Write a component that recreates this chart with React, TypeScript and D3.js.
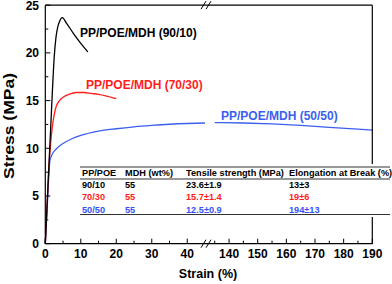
import React from 'react';
import * as d3 from 'd3';

// strain (%) / stress (MPa)
const strain9010 = [0, 0.5, 1, 1.5, 2, 2.5, 3, 3.5, 4, 4.8, 6, 8, 10, 12];
const stress9010 = [0, 4, 8, 12, 16, 19.5, 21.6, 22.7, 23.3, 23.7, 23.1, 22.0, 21.0, 20.1];

const strain7030 = [0, 0.5, 1, 1.5, 2, 2.5, 3, 4, 5, 7, 9, 11, 13, 15, 17, 20];
const stress7030 = [0, 4, 8, 10.5, 12.3, 13.5, 14.3, 15.0, 15.35, 15.7, 15.85, 15.85, 15.75, 15.65, 15.5, 15.2];

const strain5050 = [0, 0.5, 1, 1.3, 2, 3, 5, 7.5, 10, 15, 20, 25, 30, 35, 40, 45];
const stress5050 = [0, 3.5, 7.2, 8.7, 9.4, 9.9, 10.5, 11.0, 11.35, 11.8, 12.05, 12.25, 12.4, 12.52, 12.6, 12.65];
// after the axis break
const strain5050b = [135, 145, 155, 165, 175, 185, 190];
const stress5050b = [12.7, 12.65, 12.55, 12.4, 12.2, 12.0, 11.9];

const leftTicks = [0, 10, 20, 30, 40];
const leftMinor = [5, 15, 25, 35];
const rightTicks = [140, 150, 160, 170, 180, 190];
const rightMinor = [135, 145, 155, 165, 175, 185];
const yTicks = [0, 5, 10, 15, 20, 25];
const yMinor = [2.5, 7.5, 12.5, 17.5, 22.5];

const tableHead = ['PP/POE', 'MDH (wt%)', 'Tensile strength (MPa)', 'Elongation at Break (%)'];
const tableRows = [
  ['90/10', '55', '23.6±1.9', '13±3'],
  ['70/30', '55', '15.7±1.4', '19±6'],
  ['50/50', '55', '12.5±0.9', '194±13'],
];
const seriesNames = ['PP/POE/MDH (90/10)', 'PP/POE/MDH (70/30)', 'PP/POE/MDH (50/50)'];

const BLACK = '#000000';
const RED = '#ff1c1c';
const BLUE = '#3a5ff0';
const rowColors = [BLACK, RED, '#3352f5'];

const FONT = '"Liberation Sans", Arial, sans-serif';

export default function App() {
  const W = 392, H = 284;
  const xL = d3.scaleLinear().domain([0, 45]).range([45.3, 205]);
  const xR = d3.scaleLinear().domain([133, 190]).range([209, 372.3]);
  const y = d3.scaleLinear().domain([0, 25]).range([243.7, 5.2]);
  const x0 = xL(0), x1 = xR(190), yb = y(0), yt = y(25);

  const lineL = d3.line<[number, number]>()
    .x(d => xL(d[0])).y(d => y(d[1])).curve(d3.curveMonotoneX);
  const lineR = d3.line<[number, number]>()
    .x(d => xR(d[0])).y(d => y(d[1])).curve(d3.curveMonotoneX);
  const zip = (a: number[], b: number[]) => a.map((v, i) => [v, b[i]] as [number, number]);

  const colX = [82, 125, 186, 289];
  const breakX = 207;

  const breakMark = (cy: number) => (
    <g stroke="#000" strokeWidth={1}>
      <line x1={breakX - 6} y1={cy + 4} x2={breakX - 1} y2={cy - 4} />
      <line x1={breakX - 1} y1={cy + 4} x2={breakX + 4} y2={cy - 4} />
    </g>
  );

  return (
    <svg width={W} height={H} style={{ position: 'absolute', left: 0, top: 0, background: '#fff' }}
      fontFamily={FONT} fontWeight="bold">
      {/* curves */}
      <path d={lineL(zip(strain5050, stress5050)) || ''} fill="none" stroke={BLUE} strokeWidth={1.3} />
      <path d={lineR(zip(strain5050b, stress5050b)) || ''} fill="none" stroke={BLUE} strokeWidth={1.3} />
      <path d={lineL(zip(strain7030, stress7030)) || ''} fill="none" stroke={RED} strokeWidth={1.3} />
      <path d={lineL(zip(strain9010, stress9010)) || ''} fill="none" stroke={BLACK} strokeWidth={1.3} />

      {/* frame */}
      <g stroke="#000" strokeWidth={1.2} fill="none">
        <line x1={x0} y1={yt} x2={x0} y2={yb} />
        <line x1={x0} y1={yb} x2={x1} y2={yb} />
        <line x1={x0} y1={yt} x2={x1} y2={yt} />
        <line x1={x1} y1={yt} x2={x1} y2={yb} />
      </g>
      {breakMark(yt)}
      {breakMark(yb)}

      {/* x ticks */}
      <g stroke="#000" strokeWidth={1}>
        {leftTicks.map(t => <line key={'l' + t} x1={xL(t)} x2={xL(t)} y1={yb} y2={yb - 5} />)}
        {leftMinor.map(t => <line key={'lm' + t} x1={xL(t)} x2={xL(t)} y1={yb} y2={yb - 3} />)}
        {rightTicks.map(t => <line key={'r' + t} x1={xR(t)} x2={xR(t)} y1={yb} y2={yb - 5} />)}
        {rightMinor.map(t => <line key={'rm' + t} x1={xR(t)} x2={xR(t)} y1={yb} y2={yb - 3} />)}
        {yTicks.map(t => <line key={'y' + t} x1={x0} x2={x0 + 5} y1={y(t)} y2={y(t)} />)}
        {yMinor.map(t => <line key={'ym' + t} x1={x0} x2={x0 + 3} y1={y(t)} y2={y(t)} />)}
      </g>
      <g fontSize={12} textAnchor="middle" fill="#000">
        {leftTicks.map(t => <text key={'lt' + t} x={xL(t)} y={258}>{t}</text>)}
        {rightTicks.map(t => <text key={'rt' + t} x={xR(t)} y={258}>{t}</text>)}
      </g>
      <g fontSize={12} textAnchor="end" fill="#000">
        {yTicks.map(t => <text key={'yt' + t} x={39} y={y(t) + 4.3}>{t}</text>)}
      </g>

      {/* axis titles */}
      <text x={208} y={278} fontSize={12.5} textAnchor="middle">Strain (%)</text>
      <text transform="translate(14,126) rotate(-90)" fontSize={14} textAnchor="middle"
        textLength={106} lengthAdjust="spacingAndGlyphs">Stress (MPa)</text>

      {/* series labels */}
      <text x={80} y={36.5} fontSize={12} fill={BLACK}>{seriesNames[0]}</text>
      <text x={86} y={88.5} fontSize={12} fill={RED}>{seriesNames[1]}</text>
      <text x={221} y={119.5} fontSize={12} fill={BLUE}>{seriesNames[2]}</text>

      {/* table */}
      <rect x={80} y={164} width={W - 80} height={53} fill="#fff" />
      <g stroke="#333" strokeWidth={1.2}>
        <line x1={80} x2={390} y1={167} y2={167} />
        <line x1={80} x2={390} y1={179} y2={179} />
        <line x1={80} x2={390} y1={214.5} y2={214.5} />
      </g>
      <g fontSize={9.2}>
        {tableHead.map((h, i) => <text key={'h' + i} x={colX[i]} y={176.3}>{h}</text>)}
        {tableRows.map((row, r) => row.map((c, i) => (
          <text key={r + '-' + i} x={colX[i]} y={188 + r * 12.4} fill={rowColors[r]}>{c}</text>
        )))}
      </g>
    </svg>
  );
}
